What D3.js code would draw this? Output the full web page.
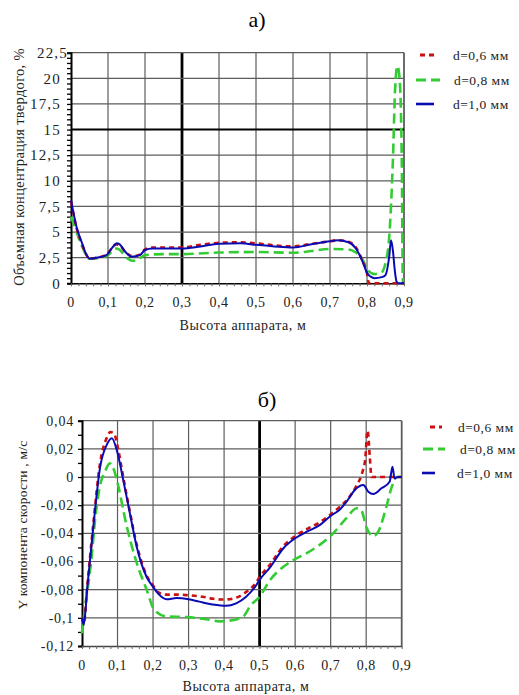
<!DOCTYPE html>
<html>
<head>
<meta charset="utf-8">
<script src="https://cdn.jsdelivr.net/npm/d3@7/dist/d3.min.js"></script>
<style>
  body { margin: 0; background: #fff; }
</style>
</head>
<body>
<svg id="chart" width="519" height="695" font-family="'Liberation Serif', 'DejaVu Serif', serif"></svg>
<script>
// ---- Panel а: volume concentration of solids vs. apparatus height ----
const legendLabels = ["d=0,6 мм", "d=0,8 мм", "d=1,0 мм"];

const concTicks = [0, 2.5, 5, 7.5, 10, 12.5, 15, 17.5, 20, 22.5];
const heightTicks = [0, 0.1, 0.2, 0.3, 0.4, 0.5, 0.6, 0.7, 0.8, 0.9];

const hA06 = [0, 0.015, 0.03, 0.04, 0.05, 0.07, 0.096, 0.11, 0.122, 0.13, 0.146, 0.164, 0.186, 0.2, 0.22, 0.3, 0.35, 0.4, 0.46, 0.5, 0.55, 0.6, 0.65, 0.7, 0.72, 0.75, 0.77, 0.79, 0.8, 0.805, 0.9];
const cA06 = [8.0, 5.4, 3.8, 2.9, 2.4, 2.5, 2.8, 3.4, 3.8, 3.75, 3.1, 2.65, 2.8, 3.3, 3.5, 3.5, 3.75, 3.95, 4.0, 3.9, 3.7, 3.6, 3.85, 4.1, 4.2, 4.05, 3.5, 2.0, 1.0, 0, 0];

const hA08 = [0, 0.015, 0.03, 0.05, 0.07, 0.1, 0.12, 0.13, 0.15, 0.165, 0.18, 0.2, 0.25, 0.3, 0.4, 0.5, 0.6, 0.65, 0.7, 0.75, 0.77, 0.79, 0.8, 0.82, 0.84, 0.85, 0.86, 0.87, 0.876, 0.882, 0.888, 0.894, 0.897, 0.9];
const cA08 = [6.5, 5.0, 3.6, 2.4, 2.45, 2.75, 3.4, 3.3, 2.5, 2.2, 2.3, 2.75, 2.85, 2.85, 3.0, 3.05, 2.98, 3.15, 3.35, 3.3, 3.0, 2.2, 1.4, 0.9, 1.1, 2.0, 4.5, 12, 19, 21.2, 20, 12, 0, 0];

const hA10 = [0, 0.015, 0.03, 0.04, 0.05, 0.07, 0.096, 0.11, 0.124, 0.13, 0.146, 0.164, 0.186, 0.2, 0.22, 0.3, 0.35, 0.4, 0.46, 0.5, 0.55, 0.6, 0.65, 0.7, 0.72, 0.75, 0.77, 0.79, 0.8, 0.81, 0.82, 0.84, 0.85, 0.86, 0.865, 0.87, 0.875, 0.88, 0.885, 0.9];
const cA10 = [8.1, 5.5, 3.9, 2.9, 2.4, 2.5, 2.75, 3.4, 3.9, 3.85, 3.1, 2.6, 2.75, 3.25, 3.4, 3.4, 3.6, 3.85, 3.9, 3.75, 3.6, 3.5, 3.8, 4.1, 4.2, 4.0, 3.4, 1.95, 1.0, 0.65, 0.5, 0.6, 0.8, 2.6, 4.2, 3.2, 1.3, 0.15, 0, 0];

// ---- Panel б: Y velocity component vs. apparatus height ----
const velTicks = [-0.12, -0.1, -0.08, -0.06, -0.04, -0.02, 0, 0.02, 0.04];

const hB06 = [0, 0.005, 0.015, 0.032, 0.051, 0.07, 0.08, 0.09, 0.1, 0.116, 0.135, 0.154, 0.182, 0.2, 0.215, 0.238, 0.27, 0.3, 0.34, 0.37, 0.4, 0.43, 0.46, 0.49, 0.5, 0.53, 0.567, 0.6, 0.633, 0.67, 0.698, 0.726, 0.75, 0.773, 0.79, 0.797, 0.804, 0.81, 0.815, 0.9];
const vB06 = [-0.100, -0.104, -0.077, -0.033, 0.010, 0.028, 0.032, 0.031, 0.022, 0.0, -0.025, -0.048, -0.070, -0.077, -0.082, -0.0835, -0.0835, -0.084, -0.085, -0.0865, -0.087, -0.086, -0.082, -0.075, -0.071, -0.062, -0.049, -0.042, -0.037, -0.032, -0.027, -0.021, -0.015, -0.006, 0.004, 0.012, 0.033, 0.015, 0, 0];

const hB08 = [0, 0.01, 0.02, 0.027, 0.037, 0.05, 0.065, 0.078, 0.09, 0.098, 0.126, 0.154, 0.182, 0.204, 0.238, 0.295, 0.35, 0.388, 0.416, 0.454, 0.475, 0.5, 0.53, 0.567, 0.595, 0.633, 0.67, 0.707, 0.745, 0.773, 0.787, 0.8, 0.82, 0.834, 0.857, 0.872, 0.886, 0.9];
const vB08 = [-0.111, -0.090, -0.072, -0.057, -0.030, -0.007, 0.004, 0.0097, 0.005, -0.002, -0.035, -0.061, -0.080, -0.0945, -0.099, -0.0995, -0.101, -0.1025, -0.102, -0.099, -0.091, -0.085, -0.073, -0.0637, -0.059, -0.054, -0.048, -0.040, -0.029, -0.0222, -0.024, -0.0353, -0.042, -0.0388, -0.021, -0.007, 0, 0];

const hB10 = [0, 0.005, 0.015, 0.032, 0.051, 0.07, 0.084, 0.098, 0.116, 0.135, 0.154, 0.182, 0.2, 0.215, 0.238, 0.266, 0.3, 0.33, 0.368, 0.406, 0.434, 0.462, 0.49, 0.5, 0.53, 0.567, 0.6, 0.633, 0.67, 0.698, 0.726, 0.745, 0.768, 0.792, 0.806, 0.82, 0.843, 0.866, 0.874, 0.88, 0.89, 0.9];
const vB10 = [-0.100, -0.105, -0.078, -0.035, 0.007, 0.023, 0.0275, 0.019, -0.002, -0.026, -0.0495, -0.071, -0.078, -0.083, -0.0868, -0.086, -0.0868, -0.0885, -0.0905, -0.0915, -0.0897, -0.085, -0.077, -0.073, -0.064, -0.0506, -0.0435, -0.0388, -0.034, -0.028, -0.023, -0.0175, -0.0092, -0.0057, -0.0104, -0.012, -0.008, -0.0033, 0.0073, -0.001, 0, 0];

// line styles for the three particle sizes
const seriesStyle = [
  { color: "#cc1010", width: 2.6, dash: "5,4" },
  { color: "#33cc33", width: 2.6, dash: "10,5" },
  { color: "#0a0ab4", width: 2.0, dash: null }
];

const FONT = "'Liberation Serif', 'DejaVu Serif', serif";
const svg = d3.select("#chart");
const fmt = d => String(+d.toFixed(3)).replace(".", ",");

function addText(parent) {
  return parent.append("text").attr("font-family", FONT).attr("fill", "#222");
}

function panel(cfg) {
  const x = d3.scaleLinear().domain([0, 0.9]).range([cfg.left, cfg.right]);
  const y = d3.scaleLinear().domain(cfg.yDomain).range([cfg.bottom, cfg.top]);
  const g = svg.append("g");

  // grid
  const grid = g.append("g");
  grid.selectAll("line.gx").data(heightTicks.slice(1)).join("line")
    .attr("x1", d => x(d)).attr("x2", d => x(d))
    .attr("y1", cfg.top).attr("y2", cfg.bottom)
    .attr("stroke", d => Math.abs(d - cfg.boldX) < 1e-9 ? "#000" : "#5c5c5c")
    .attr("stroke-width", d => Math.abs(d - cfg.boldX) < 1e-9 ? 2.8 : (d > 0.85 ? 1.8 : 1.2));
  grid.selectAll("line.gy").data(cfg.yTicks.slice(1)).join("line")
    .attr("x1", cfg.left).attr("x2", cfg.right)
    .attr("y1", d => y(d)).attr("y2", d => y(d))
    .attr("stroke", d => cfg.boldY !== null && Math.abs(d - cfg.boldY) < 1e-9 ? "#000" : "#5c5c5c")
    .attr("stroke-width", d => cfg.boldY !== null && Math.abs(d - cfg.boldY) < 1e-9 ? 2 : 1.2);

  // axes with minor ticks
  const yMinor = d3.range(cfg.yDomain[0], cfg.yDomain[1] + 1e-9, cfg.yMinorStep);
  g.append("g").attr("transform", `translate(${cfg.left},0)`)
    .call(d3.axisLeft(y).tickValues(yMinor).tickSize(4).tickFormat(""))
    .call(a => a.select(".domain").attr("stroke", "#000").attr("stroke-width", 2))
    .call(a => a.selectAll(".tick line").attr("stroke", "#000").attr("stroke-width", 1.3));
  const xMinor = d3.range(0, 0.9 + 1e-9, 0.02);
  g.append("g").attr("transform", `translate(0,${cfg.bottom})`)
    .call(d3.axisBottom(x).tickValues(xMinor).tickSize(3).tickSizeOuter(0).tickFormat(""))
    .call(a => a.select(".domain").attr("stroke", cfg.bottomColor).attr("stroke-width", 1.5))
    .call(a => a.selectAll(".tick line").attr("stroke", "#666").attr("stroke-width", 1));

  // tick labels
  g.append("g").selectAll("text").data(cfg.yTicks).join("text")
    .attr("font-family", FONT).attr("fill", "#222")
    .attr("x", d => cfg.yLabelX(d)).attr("y", d => y(d)).attr("dy", "0.35em")
    .attr("text-anchor", "end").attr("font-size", cfg.yFont)
    .attr("letter-spacing", cfg.yLetter)
    .text(fmt);
  g.append("g").selectAll("text").data(heightTicks).join("text")
    .attr("font-family", FONT).attr("fill", "#222")
    .attr("x", d => x(d)).attr("y", cfg.xLabelY)
    .attr("text-anchor", "middle").attr("font-size", 14)
    .attr("letter-spacing", 0.5)
    .text(fmt);

  // data lines
  const line = d3.line().x(d => x(d[0])).y(d => y(d[1])).curve(d3.curveMonotoneX);
  [1, 0, 2].forEach(i => {
    const pts = d3.zip(cfg.xs[i], cfg.ys[i]);
    g.append("path").datum(pts)
      .attr("fill", "none")
      .attr("stroke", seriesStyle[i].color)
      .attr("stroke-width", seriesStyle[i].width)
      .attr("stroke-dasharray", seriesStyle[i].dash)
      .attr("stroke-linejoin", "round")
      .attr("d", line);
  });

  // titles
  addText(svg).attr("x", cfg.titleX).attr("y", cfg.titleY)
    .attr("text-anchor", "middle").attr("font-size", 22).attr("fill", "#000")
    .text(cfg.title);
  addText(svg)
    .attr("transform", `translate(${cfg.yTitleX},${cfg.yTitleY}) rotate(-90)`)
    .attr("text-anchor", "middle").attr("font-size", cfg.yTitleFont)
    .attr("letter-spacing", cfg.yTitleLetter)
    .text(cfg.yTitle);
  addText(svg).attr("x", cfg.xTitleX).attr("y", cfg.xTitleY)
    .attr("text-anchor", "middle").attr("font-size", 14).attr("letter-spacing", 0.6)
    .text("Высота аппарата, м");

  // legend
  const lg = svg.append("g");
  cfg.legend.forEach((L, i) => {
    lg.append("line").attr("x1", L.x1).attr("x2", L.x2).attr("y1", L.y).attr("y2", L.y)
      .attr("stroke", seriesStyle[i].color).attr("stroke-width", i === 2 ? 2.6 : 2.8)
      .attr("stroke-dasharray", seriesStyle[i].dash);
    addText(lg).attr("x", L.tx).attr("y", L.y).attr("dy", "0.35em")
      .attr("font-size", 13.5).attr("letter-spacing", 0.5)
      .text(legendLabels[i]);
  });
}

panel({
  left: 71, right: 404, top: 52.7, bottom: 283.3,
  yDomain: [0, 22.5], yTicks: concTicks, yMinorStep: 0.5,
  boldX: 0.3, boldY: 15, bottomColor: "#000",
  yLabelX: d => d === 22.5 ? 68 : 61, yFont: 15, yLetter: 1.2,
  xLabelY: 307,
  xs: [hA06, hA08, hA10], ys: [cA06, cA08, cA10],
  title: "а)", titleX: 257, titleY: 27,
  yTitle: "Объемная концентрация твердого, %", yTitleX: 24, yTitleY: 167, yTitleFont: 14.5, yTitleLetter: 0.3,
  xTitleX: 243, xTitleY: 330,
  legend: [
    { x1: 420, x2: 435, y: 55, tx: 453 },
    { x1: 416, x2: 440, y: 80, tx: 454 },
    { x1: 416, x2: 434, y: 104, tx: 453 }
  ]
});

panel({
  left: 82, right: 401.7, top: 420.7, bottom: 646,
  yDomain: [-0.12, 0.04], yTicks: velTicks, yMinorStep: 0.01,
  boldX: 0.5, boldY: null, bottomColor: "#444",
  yLabelX: d => 74, yFont: 14, yLetter: 0.8,
  xLabelY: 670,
  xs: [hB06, hB08, hB10], ys: [vB06, vB08, vB10],
  title: "б)", titleX: 267, titleY: 407,
  yTitle: "Y компонента скорости , м/с", yTitleX: 27, yTitleY: 525, yTitleFont: 13.5, yTitleLetter: 0.2,
  xTitleX: 246, xTitleY: 691,
  legend: [
    { x1: 430, x2: 442, y: 427, tx: 458 },
    { x1: 423, x2: 445, y: 449, tx: 460 },
    { x1: 422, x2: 435, y: 473, tx: 457 }
  ]
});
</script>
</body>
</html>
